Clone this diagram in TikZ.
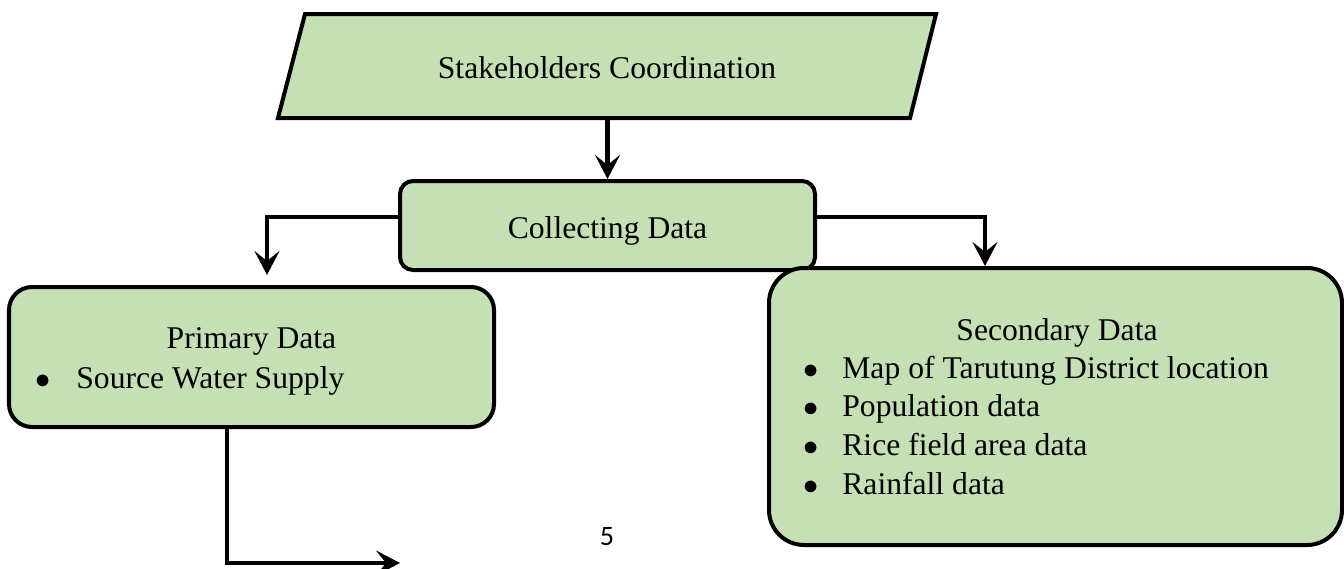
\documentclass[tikz,border=0pt]{standalone}
\usepackage{fontspec}
\setmainfont{Liberation Serif}
\newfontfamily\pagefont{Carlito}
\usetikzlibrary{arrows.meta, positioning, calc}
\definecolor{boxgreen}{RGB}{197,224,180}

\begin{document}
\begin{tikzpicture}[
    box/.style={draw, line width=0.08cm, fill=boxgreen, inner sep=0pt},
    txt/.style={font=\fontsize{18}{22}\selectfont, inner sep=0pt},
    flow/.style={line width=0.09cm, -{Stealth[length=0.48cm, width=0.5cm, inset=0.2cm]}}
]
    \useasboundingbox (0,0) rectangle (26.88,11.36);

    % Stakeholders coordination
    \draw[box] (5.56,9.00) -- (6.10,11.08) -- (18.72,11.08) -- (18.20,9.00) -- cycle;
    \node[txt, anchor=base] (stake) at (12.14,9.80) {Stakeholders Coordination};
    \coordinate (stake-out) at (12.15,9.00);

    % Collecting data
    \node[box, txt, rounded corners=0.26cm, minimum width=8.3cm, minimum height=1.78cm,
          text height=0.6cm, text depth=0.1cm] (collect) at (12.15,6.85) {Collecting Data};

    % Primary data
    \node[box, rounded corners=0.46cm, minimum width=9.7cm, minimum height=2.8cm] (primary) at (5.03,4.22) {};
    \node[txt, anchor=base] (prim-title) at (5.03,4.40) {Primary Data};
    \node[txt, anchor=base] (prim-dot) at (0.86,3.60) {$\bullet$};
    \node[txt, anchor=base west] (prim-item) at (1.52,3.60) {Source Water Supply};

    % Secondary data
    \node[box, rounded corners=0.7cm, minimum width=11.46cm, minimum height=5.54cm] (second) at (21.11,3.23) {};
    \node[txt, anchor=base] (sec-title) at (21.14,4.56) {Secondary Data};
    \foreach \txt [count=\i] in {Map of Tarutung District location, Population data, Rice field area data, Rainfall data} {
        \node[txt, anchor=base] (sec-dot\i) at (16.22,{4.575-0.775*\i}) {$\bullet$};
        \node[txt, anchor=base west] (sec-item\i) at (16.84,{4.575-0.775*\i}) {\txt};
    }

    % Arrows
    \draw[flow] (stake-out) -- (collect.north);
    \draw[flow] ([yshift=0.17cm]collect.west) -| ([xshift=0.31cm,yshift=0.2cm]primary.north);
    \draw[flow] ([yshift=0.17cm]collect.east) -| ([xshift=-1.41cm]second.north);
    \coordinate (prim-out) at (8.0,0.10);
    \draw[flow] ([xshift=-0.49cm]primary.south) |- (prim-out);

    % page number
    \node[font=\pagefont\fontsize{16}{19}\selectfont] (page) at (12.14,0.62) {5};
\end{tikzpicture}
\end{document}
